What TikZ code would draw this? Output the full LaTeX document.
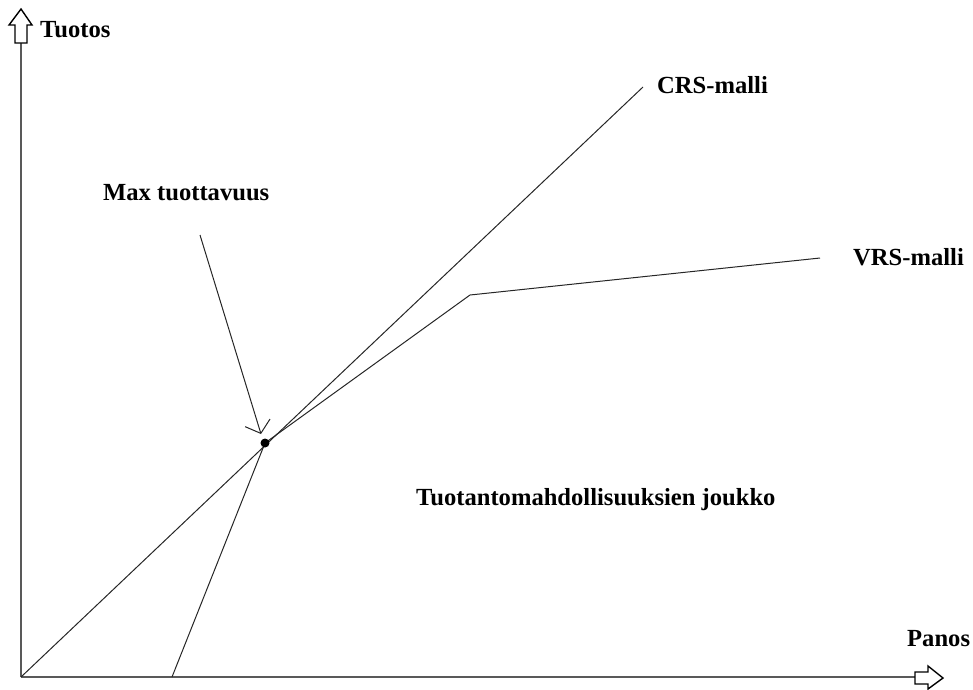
\documentclass[tikz,border=0pt]{standalone}
\usepackage{fontspec}
\setmainfont{Liberation Serif}
\usetikzlibrary{arrows.meta}
\begin{document}
\begin{tikzpicture}[x=1pt,y=-1pt,
  ln/.style={draw=black!85,line width=1pt},
  axis/.style={draw=black!65,line width=2pt},
  lbl/.style={anchor=base west,inner sep=0pt,font=\bfseries\fontsize{24.6}{24.6}\selectfont}]
\useasboundingbox (0,0) rectangle (973,689);
% coordinates
\coordinate (O) at (21,677);
\coordinate (Ytop) at (21,43);
\coordinate (Xend) at (915,677);
\coordinate (P) at (265,443);
\coordinate (K) at (470,295);
\coordinate (V) at (820,258);
\coordinate (C) at (643,87);
\coordinate (A) at (172,677);
\coordinate (S) at (200,235);
\coordinate (T) at (261,434);
% axes
\draw[axis] (O) -- (Ytop);
\draw[axis] (O) -- (Xend);
\draw[line width=1.4pt,fill=white] (15,43) -- (15,25) -- (9,25) -- (21,9) -- (32,25) -- (27,25) -- (27,43) -- cycle;
\draw[line width=1.4pt,fill=white] (915,672) -- (928,672) -- (928,666) -- (943,678) -- (928,689) -- (928,684) -- (915,684) -- cycle;
% CRS
\draw[ln] (O) -- (C);
% VRS
\draw[ln] (A) -- (P) -- (K) -- (V);
% dot
\fill (P) circle (4.5);
% arrow
\draw[ln,-{Straight Barb[length=11pt,width=26pt,line width=1pt]}] (S) -- (T);
% labels
\node[lbl] (ty) at (40,37) {Tuotos};
\node[lbl] (crs) at (657,93) {CRS-malli};
\node[lbl] (vrs) at (853,265) {VRS-malli};
\node[lbl] (max) at (103,200) {Max tuottavuus};
\node[lbl] (tj) at (416,505) {Tuotantomahdollisuuksien joukko};
\node[lbl] (pa) at (907,646) {Panos};
\end{tikzpicture}
\end{document}
